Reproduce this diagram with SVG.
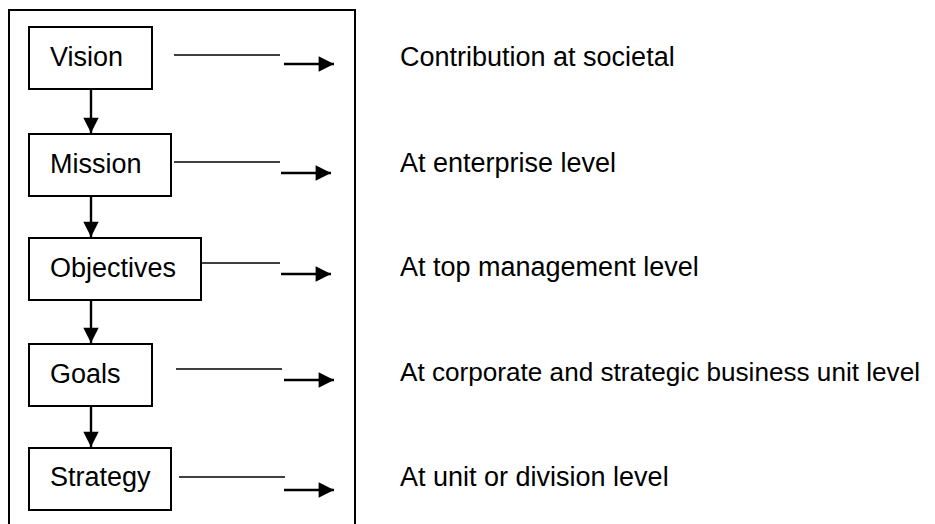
<svg xmlns="http://www.w3.org/2000/svg" width="935" height="524" viewBox="0 0 935 524">
  <style>
    .box { fill: #ffffff; stroke: #000000; stroke-width: 2; }
    .frame { fill: #ffffff; stroke: #000000; stroke-width: 2; }
    .lbl { font-family: "Liberation Sans", Arial, sans-serif; font-size: 27px; fill: #000000; }
    .line { stroke: #000000; stroke-width: 1.6; fill: none; }
    .arr { stroke: #000000; stroke-width: 2.4; fill: none; }
  </style>
  <defs>
    <marker id="head" viewBox="0 0 10 10" refX="10" refY="5" markerWidth="6.6" markerHeight="6.4" markerUnits="strokeWidth" orient="auto">
      <path d="M0,0 L10,5 L0,10 Z" fill="#000000"/>
    </marker>
  </defs>
  <rect width="935" height="524" fill="#ffffff"/>
  <rect class="frame" x="9" y="10" width="346" height="530"/>

  <g id="vision">
    <rect class="box" x="29" y="27" width="123" height="62"/>
    <text class="lbl" x="50" y="66">Vision</text>
  </g>
  <g id="mission">
    <rect class="box" x="29" y="134" width="142" height="62"/>
    <text class="lbl" x="50" y="173">Mission</text>
  </g>
  <g id="objectives">
    <rect class="box" x="29" y="238" width="172" height="62"/>
    <text class="lbl" x="50" y="277">Objectives</text>
  </g>
  <g id="goals">
    <rect class="box" x="29" y="344" width="123" height="62"/>
    <text class="lbl" x="50" y="383">Goals</text>
  </g>
  <g id="strategy">
    <rect class="box" x="29" y="448" width="142" height="62"/>
    <text class="lbl" x="50" y="486">Strategy</text>
  </g>

  <g id="label-vision"><text class="lbl" x="400" y="66">Contribution at societal</text></g>
  <g id="label-mission"><text class="lbl" x="400" y="172">At enterprise level</text></g>
  <g id="label-objectives"><text class="lbl" x="400" y="276">At top management level</text></g>
  <g id="label-goals"><text class="lbl" x="400" y="381" style="font-size:26px" textLength="520" lengthAdjust="spacingAndGlyphs">At corporate and strategic business unit level</text></g>
  <g id="label-strategy"><text class="lbl" x="400" y="486">At unit or division level</text></g>

  <g id="connectors">
    <line class="arr" x1="91" y1="89" x2="91" y2="133" marker-end="url(#head)"/>
    <line class="arr" x1="91" y1="196" x2="91" y2="237" marker-end="url(#head)"/>
    <line class="arr" x1="91" y1="300" x2="91" y2="343" marker-end="url(#head)"/>
    <line class="arr" x1="91" y1="406" x2="91" y2="447" marker-end="url(#head)"/>

    <line class="line" x1="174" y1="55" x2="280" y2="55"/>
    <line class="arr" x1="284" y1="64" x2="334" y2="64" marker-end="url(#head)"/>

    <line class="line" x1="174" y1="162" x2="280" y2="162"/>
    <line class="arr" x1="281" y1="173" x2="331" y2="173" marker-end="url(#head)"/>

    <line class="line" x1="201" y1="263" x2="280" y2="263"/>
    <line class="arr" x1="281" y1="274" x2="331" y2="274" marker-end="url(#head)"/>

    <line class="line" x1="176" y1="369" x2="282" y2="369"/>
    <line class="arr" x1="284" y1="380" x2="334" y2="380" marker-end="url(#head)"/>

    <line class="line" x1="179" y1="477" x2="285" y2="477"/>
    <line class="arr" x1="284" y1="490" x2="334" y2="490" marker-end="url(#head)"/>
  </g>
</svg>
